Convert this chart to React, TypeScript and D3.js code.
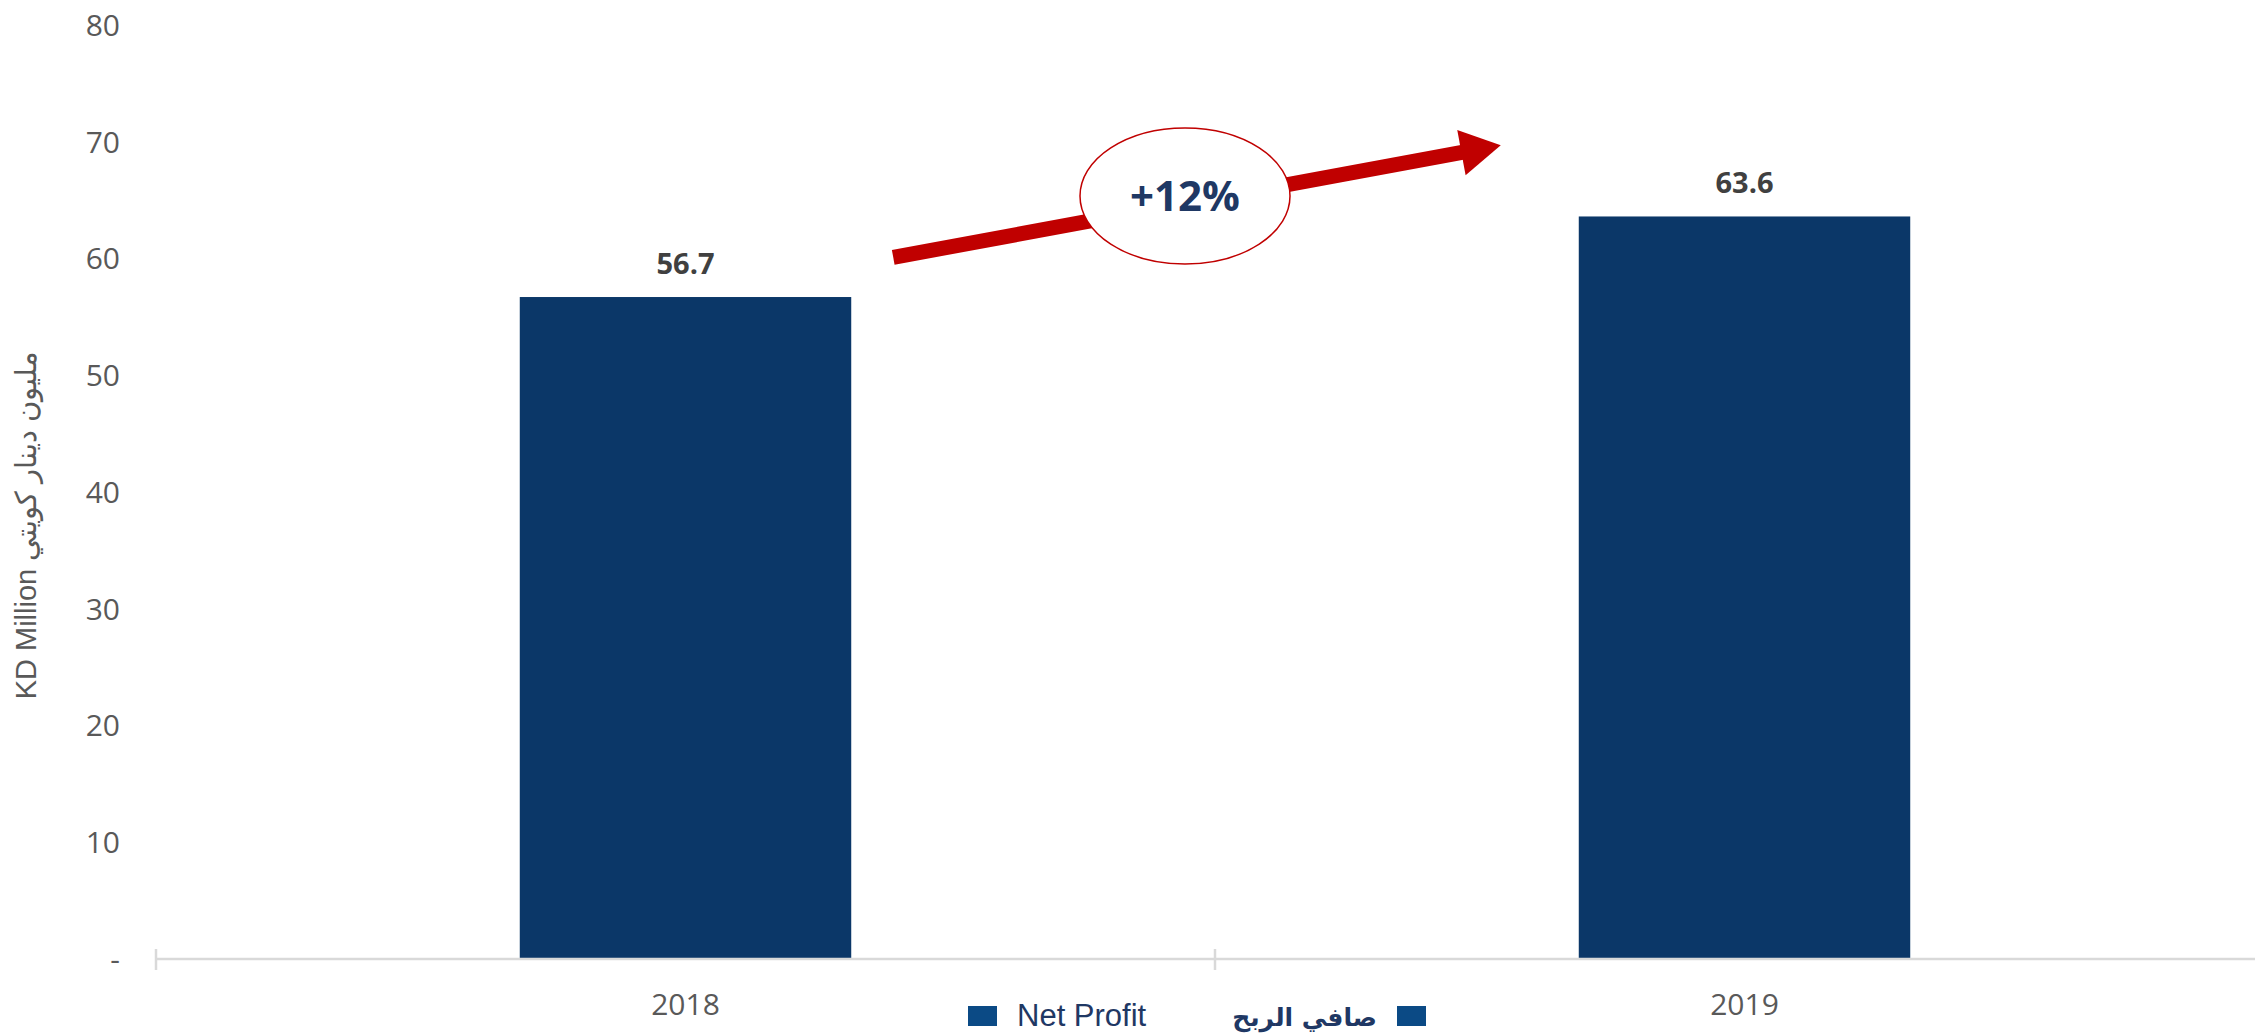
import React, { useEffect, useRef } from "react";
import * as d3 from "d3";

const years = ["2018", "2019"];
const netProfit = [56.7, 63.6];
const yTicks = [0, 10, 20, 30, 40, 50, 60, 70, 80];
const seriesEn = "Net Profit";
const seriesAr = "صافي الربح";
const axisTitle = "KD Million مليون دينار كويتي";

const App = () => {
   const svgRef = useRef<SVGSVGElement>(null);

   useEffect(() => {
      const svg = d3.select(svgRef.current);
      svg.selectAll("*").remove();

      // plot area: the category axis runs past the right edge like the source
      const x = d3.scaleBand().domain(years).range([156, 2274]).padding(0);
      const y = d3.scaleLinear().domain([0, 80]).range([959, 25]);
      const barW = x.bandwidth() * 0.313;

      const gray = "#595959";

      // y tick labels
      svg.append("g")
         .selectAll("text")
         .data(yTicks)
         .enter()
         .append("text")
         .attr("x", 120)
         .attr("y", (d) => y(d))
         .attr("dy", "0.36em")
         .attr("text-anchor", "end")
         .attr("font-family", "Open Sans")
         .attr("font-size", 30)
         .attr("fill", gray)
         .text((d) => (d === 0 ? "-" : d));

      // y axis title
      svg.append("text")
         .attr("transform", `translate(36, 525) rotate(-90)`)
         .attr("text-anchor", "middle")
         .attr("font-family", "Liberation Sans, Arial")
         .attr("font-size", 29)
         .attr("fill", gray)
         .text(axisTitle);

      // bars
      svg.append("g")
         .selectAll("rect")
         .data(netProfit)
         .enter()
         .append("rect")
         .attr("x", (d, i) => x(years[i])! + (x.bandwidth() - barW) / 2)
         .attr("y", (d) => y(d))
         .attr("width", barW)
         .attr("height", (d) => y(0) - y(d))
         .attr("fill", "#0b3768");

      // value labels
      svg.append("g")
         .selectAll("text")
         .data(netProfit)
         .enter()
         .append("text")
         .attr("x", (d, i) => x(years[i])! + x.bandwidth() / 2)
         .attr("y", (d) => y(d) - 23)
         .attr("text-anchor", "middle")
         .attr("font-family", "Open Sans")
         .attr("font-weight", "bold")
         .attr("font-size", 29)
         .attr("fill", "#404040")
         .text((d) => d.toFixed(1));

      // category axis line + ticks at band edges
      const axisY = y(0);
      svg.append("line")
         .attr("x1", x.range()[0])
         .attr("x2", x.range()[1])
         .attr("y1", axisY)
         .attr("y2", axisY)
         .attr("stroke", "#d9d9d9")
         .attr("stroke-width", 2.5);

      const edges = [...years.map((d) => x(d)!), x.range()[1]];
      svg.append("g")
         .selectAll("line")
         .data(edges)
         .enter()
         .append("line")
         .attr("x1", (d) => d)
         .attr("x2", (d) => d)
         .attr("y1", axisY - 10)
         .attr("y2", axisY + 11)
         .attr("stroke", "#d9d9d9")
         .attr("stroke-width", 2.5);

      // year labels
      svg.append("g")
         .selectAll("text")
         .data(years)
         .enter()
         .append("text")
         .attr("x", (d) => x(d)! + x.bandwidth() / 2)
         .attr("y", 1015)
         .attr("text-anchor", "middle")
         .attr("font-family", "Open Sans")
         .attr("font-size", 30)
         .attr("fill", gray)
         .text((d) => d);

      // growth arrow
      const x0 = x(years[0])! + x.bandwidth() / 2 + barW / 2 + 42;
      const x1 = x(years[1])! + x.bandwidth() / 2 - barW / 2 - 78;
      const y0 = y(60.1);
      const y1 = y(69.7);
      const ang = Math.atan2(y1 - y0, x1 - x0);
      const headL = 40;
      const headW = 23;
      const bx = x1 - headL * Math.cos(ang);
      const by = y1 - headL * Math.sin(ang);
      const nx = -Math.sin(ang);
      const ny = Math.cos(ang);

      svg.append("line")
         .attr("x1", x0)
         .attr("y1", y0)
         .attr("x2", bx + 2 * Math.cos(ang))
         .attr("y2", by + 2 * Math.sin(ang))
         .attr("stroke", "#c00000")
         .attr("stroke-width", 15);

      svg.append("path")
         .attr("d", `M${x1},${y1}L${bx + nx * headW},${by + ny * headW}L${bx - nx * headW},${by - ny * headW}Z`)
         .attr("fill", "#c00000");

      // growth bubble
      const growth = Math.round((netProfit[1] / netProfit[0] - 1) * 100);
      const cx = 1185;
      const cy = 196;
      svg.append("ellipse")
         .attr("cx", cx)
         .attr("cy", cy)
         .attr("rx", 105)
         .attr("ry", 68)
         .attr("fill", "white")
         .attr("stroke", "#c00000")
         .attr("stroke-width", 1.5);

      svg.append("text")
         .attr("x", cx)
         .attr("y", cy)
         .attr("dy", "0.36em")
         .attr("text-anchor", "middle")
         .attr("font-family", "Open Sans")
         .attr("font-weight", "bold")
         .attr("font-size", 42)
         .attr("fill", "#1f3864")
         .text(`+${growth}%`);

      // legend
      const lg = svg.append("g");
      lg.append("rect")
         .attr("x", 968)
         .attr("y", 1006)
         .attr("width", 29)
         .attr("height", 20)
         .attr("fill", "#0b4a85");
      lg.append("text")
         .attr("x", 1017)
         .attr("y", 1026)
         .attr("font-family", "Liberation Sans, Arial")
         .attr("font-size", 31)
         .attr("fill", "#1f3864")
         .text(seriesEn);
      lg.append("text")
         .attr("x", 1377)
         .attr("y", 1026)
         .attr("text-anchor", "end")
         .attr("font-family", "DejaVu Sans")
         .attr("font-weight", "bold")
         .attr("font-size", 25)
         .attr("fill", "#1f3864")
         .text(seriesAr);
      lg.append("rect")
         .attr("x", 1397)
         .attr("y", 1006)
         .attr("width", 29)
         .attr("height", 20)
         .attr("fill", "#0b4a85");
   }, []);

   return (
      <svg
         ref={svgRef}
         width={2255}
         height={1033}
         style={{ position: "absolute", top: 0, left: 0, background: "white" }}
      ></svg>
   );
};

export default App;
